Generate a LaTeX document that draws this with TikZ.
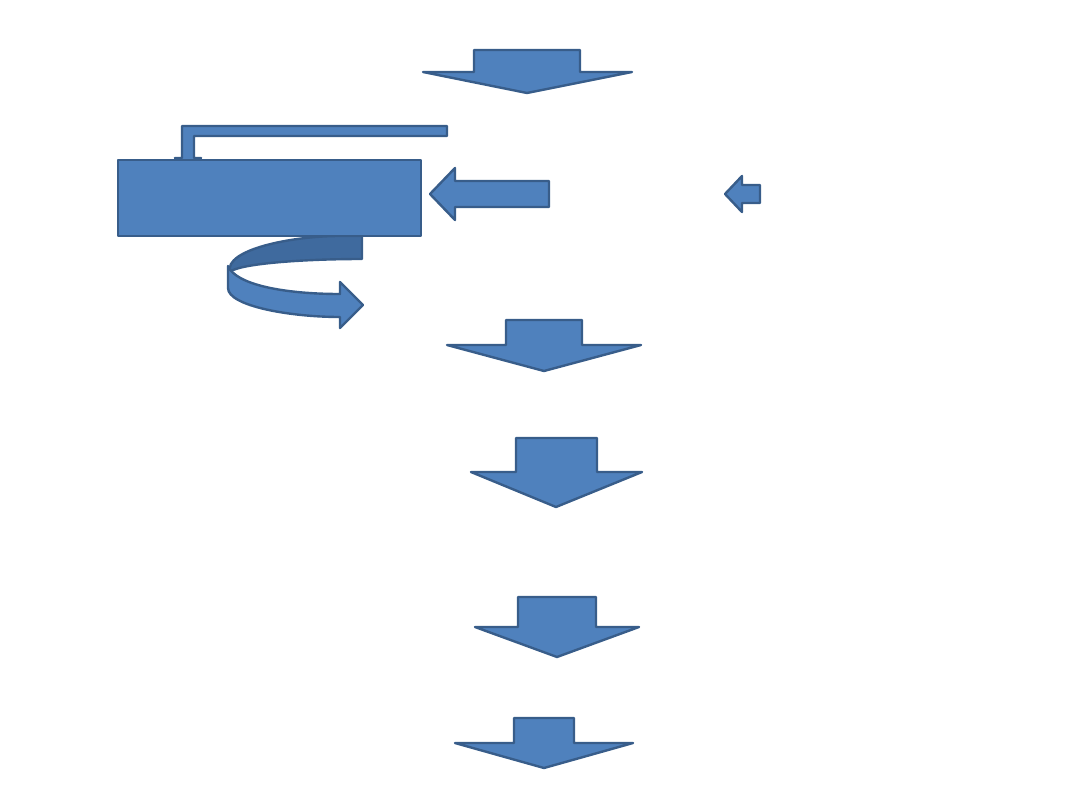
\documentclass[tikz,border=0pt]{standalone}
\definecolor{bleu}{HTML}{4F81BD}
\definecolor{bord}{HTML}{385D8A}
\definecolor{sombre}{HTML}{3F6A9E}
\tikzset{forme/.style={fill=bleu, draw=bord, line width=1.7pt, line join=round}}
\begin{document}
\begin{tikzpicture}[x=0.025cm, y=-0.025cm]
\useasboundingbox (0,0) rectangle (1080,810);
%
\draw[forme] (474,50) -- (580,50) -- (580,72) -- (632,72) -- (527,93)
-- (423,72) -- (474,72) -- cycle; % fleche 1
%
\draw[forme] (447,126) -- (447,136) -- (194,136) -- (194,158) -- (201,158)
-- (188,172) -- (175,158) -- (182,158) -- (182,126) -- cycle; % fleche coudee
%
\draw[forme, fill=sombre] (362,236) -- (362,259) .. controls (300,259) and (238,264) .. (230,272)
.. controls (224,250) and (290,236) .. (340,236) -- cycle; % dos de la fleche courbe
\draw[forme] (228,266) -- (228,288) .. controls (228,306) and (290,317) .. (340,317)
-- (340,328) -- (363,305) -- (340,282) -- (340,294)
.. controls (285,294) and (236,285) .. (228,266) -- cycle; % fleche courbe
%
\draw[forme] (118,160) rectangle (421,236); % cadre
%
\draw[forme] (430,194) -- (455,168) -- (455,181) -- (549,181) -- (549,207)
-- (455,207) -- (455,220) -- cycle; % fleche gauche
\draw[forme] (725,194) -- (742,176) -- (742,185) -- (760,185) -- (760,203)
-- (742,203) -- (742,212) -- cycle; % petite fleche
%
\draw[forme] (506,320) -- (582,320) -- (582,345) -- (641,345) -- (544,371)
-- (447,345) -- (506,345) -- cycle; % fleche 2
\draw[forme] (516,438) -- (597,438) -- (597,472) -- (642,472) -- (556,507)
-- (471,472) -- (516,472) -- cycle; % fleche 3
\draw[forme] (518,597) -- (596,597) -- (596,627) -- (639,627) -- (557,657)
-- (475,627) -- (518,627) -- cycle; % fleche 4
\draw[forme] (514,718) -- (574,718) -- (574,743) -- (633,743) -- (544,768)
-- (455,743) -- (514,743) -- cycle; % fleche 5
\end{tikzpicture}
\end{document}
